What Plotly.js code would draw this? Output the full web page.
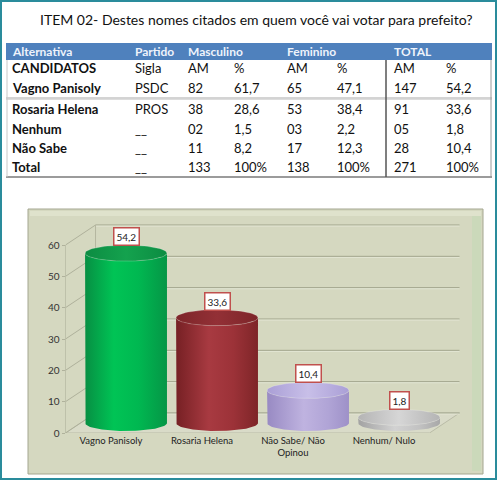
<!DOCTYPE html>
<html><head><meta charset="utf-8">
<script src="https://cdn.plot.ly/plotly-3.0.1.min.js"></script>
<style>html,body{margin:0;padding:0;background:#fff;}#c{width:497px;height:480px;}</style>
</head><body><div id="c"></div>
<script>
// ---- data ----
var titleText = 'ITEM 02- Destes nomes citados em quem você vai votar para prefeito?';
var headerLabels = ['Alternativa', 'Partido', 'Masculino', 'Feminino', 'TOTAL'];
var subHeader = ['CANDIDATOS', 'Sigla', 'AM', '%', 'AM', '%', 'AM', '%'];
var candidates = ['Vagno Panisoly', 'Rosaria Helena', 'Nenhum', 'Não Sabe', 'Total'];
var partido = ['PSDC', 'PROS', '__', '__', '__'];
var mascAM = ['82', '38', '02', '11', '133'];
var mascPct = ['61,7', '28,6', '1,5', '8,2', '100%'];
var femAM = ['65', '53', '03', '17', '138'];
var femPct = ['47,1', '38,4', '2,2', '12,3', '100%'];
var totAM = ['147', '91', '05', '28', '271'];
var totPct = ['54,2', '33,6', '1,8', '10,4', '100%'];

var chartCategories = ['Vagno Panisoly', 'Rosaria Helena', 'Não Sabe/ Não<br>Opinou', 'Nenhum/ Nulo'];
var chartValues = [54.2, 33.6, 10.4, 1.8];
var chartLabels = ['54,2', '33,6', '10,4', '1,8'];
var yTicks = [0, 10, 20, 30, 40, 50, 60];

// ---- styling ----
var W = 497, H = 480;
function X(px){ return px / W; }
function Y(py){ return 1 - py / H; }
var FONT = 'Lato, Calibri, "Open Sans", sans-serif';

var bodyColors = [
  [[0,'#078f43'],[0.35,'#00c455'],[0.65,'#00b851'],[1,'#059646']],
  [[0,'#762024'],[0.4,'#a83a41'],[0.7,'#9c3238'],[1,'#7e2528']],
  [[0,'#988ac3'],[0.45,'#bfb3e0'],[0.75,'#b0a4d6'],[1,'#9e91c8']],
  [[0,'#a2a2a2'],[0.45,'#d2d2d2'],[0.75,'#c2c2c2'],[1,'#a8a8a8']]
];
var topColors = [
  [[0,'#0c8c42'],[0.5,'#14a24e'],[1,'#0c8c42']],
  [[0,'#7d2529'],[0.5,'#933036'],[1,'#7d2529']],
  [[0,'#aa9fd6'],[0.5,'#c8bfe8'],[1,'#aa9fd6']],
  [[0,'#b4b4b4'],[0.5,'#d6d6d6'],[1,'#b4b4b4']]
];

// 3D depth offsets (in data units)
var dxMid = 0.165, dyMid = 3.19, dxBack = 0.33, dyBack = 6.38;
var bw = 0.45, eh = 2.55;

var traces = [];
chartValues.forEach(function(v, i){
  var c = i + dxMid, base = dyMid, top = v + dyMid;
  var bx = [], by = [], N = 40, k, t;
  bx.push(c - bw); by.push(top);
  bx.push(c - bw); by.push(base);
  for (k = 0; k <= N; k++){ t = Math.PI + Math.PI * k / N; bx.push(c + bw * Math.cos(t)); by.push(base + eh * Math.sin(t)); }
  bx.push(c + bw); by.push(top);
  for (k = 0; k <= N; k++){ t = 2 * Math.PI - Math.PI * k / N; bx.push(c + bw * Math.cos(t)); by.push(top + eh * Math.sin(t)); }
  traces.push({type:'scatter', mode:'lines', x:bx, y:by, fill:'toself',
    fillgradient:{type:'horizontal', colorscale: bodyColors[i]},
    line:{width:0, color:'rgba(0,0,0,0)'}, hoverinfo:'skip', showlegend:false});
  var tx = [], ty = [];
  for (k = 0; k <= 2 * N; k++){ t = 2 * Math.PI * k / (2 * N); tx.push(c + bw * Math.cos(t)); ty.push(top + eh * Math.sin(t)); }
  traces.push({type:'scatter', mode:'lines', x:tx, y:ty, fill:'toself',
    fillgradient:{type:'horizontal', colorscale: topColors[i]},
    line:{width:0.6, color:'rgba(255,255,255,0.35)'}, hoverinfo:'skip', showlegend:false});
});

var shapes = [];
var annotations = [];

// outer teal frame
shapes.push({type:'rect', xref:'paper', yref:'paper', x0:X(1), x1:X(496), y0:Y(1), y1:Y(479), line:{color:'#2a8c9c', width:2}, layer:'below'});

// ---- table ----
shapes.push({type:'rect', xref:'paper', yref:'paper', x0:X(6), x1:X(492), y0:Y(43), y1:Y(60), fillcolor:'#4f81bd', line:{width:0}, layer:'below'});
shapes.push({type:'line', xref:'paper', yref:'paper', x0:X(6), x1:X(492), y0:Y(98), y1:Y(98), line:{color:'#a8a8a8', width:1}});
shapes.push({type:'line', xref:'paper', yref:'paper', x0:X(6), x1:X(492), y0:Y(99.5), y1:Y(99.5), line:{color:'#dddddd', width:1}});
shapes.push({type:'line', xref:'paper', yref:'paper', x0:X(6), x1:X(492), y0:Y(177), y1:Y(177), line:{color:'#7a7a7a', width:1.5}});
shapes.push({type:'line', xref:'paper', yref:'paper', x0:X(386), x1:X(386), y0:Y(60), y1:Y(177), line:{color:'#555555', width:1.5}});
shapes.push({type:'line', xref:'paper', yref:'paper', x0:X(7), x1:X(7), y0:Y(60), y1:Y(177), line:{color:'#c8c8c8', width:1}});
shapes.push({type:'line', xref:'paper', yref:'paper', x0:X(491), x1:X(491), y0:Y(60), y1:Y(177), line:{color:'#9a9a9a', width:1}});

function txt(s, px, py, size, bold, color){
  annotations.push({xref:'paper', yref:'paper', x:X(px), y:Y(py), xanchor:'left', yanchor:'middle',
    text: bold ? '<b>' + s + '</b>' : s, showarrow:false,
    font:{family:FONT, size:size, color:color || '#111'}});
}
annotations.push({xref:'paper', yref:'paper', x:X(256), y:Y(20), xanchor:'center', yanchor:'middle',
  text:titleText, showarrow:false, font:{family:FONT, size:14, color:'#111'}});

var hdrX = [10, 133, 186, 285, 392];
headerLabels.forEach(function(s, j){ txt(s, hdrX[j], 51.5, 12, true, '#eef3fb'); });
var colX = [10, 133, 186, 232, 285, 335, 392, 444];
subHeader.forEach(function(s, j){ txt(s, colX[j], 68, 13, j === 0, '#111'); });
var rowY = [88, 109, 129, 148, 167];
candidates.forEach(function(name, r){
  var cells = [name, partido[r], mascAM[r], mascPct[r], femAM[r], femPct[r], totAM[r], totPct[r]];
  cells.forEach(function(s, j){ txt(s, colX[j], rowY[r], 13, j === 0, '#111'); });
});

// ---- chart frame ----
shapes.push({type:'rect', xref:'paper', yref:'paper', x0:X(28), x1:X(483), y0:Y(209), y1:Y(474), fillcolor:'#d5d8c0', line:{color:'#a4a690', width:1}, layer:'below'});
shapes.push({type:'rect', xref:'paper', yref:'paper', x0:X(472), x1:X(481), y0:Y(212), y1:Y(471), fillcolor:'#cbd9ba', line:{width:0}, layer:'below'});
shapes.push({type:'rect', xref:'paper', yref:'paper', x0:X(30), x1:X(481), y0:Y(211), y1:Y(216), fillcolor:'#dfe2cc', line:{width:0}, layer:'below'});

// floor
shapes.push({type:'path', xref:'x', yref:'y', layer:'below',
  path:'M -0.5 0 L 3.5 0 L ' + (3.5 + dxBack) + ' ' + dyBack + ' L ' + (-0.5 + dxBack) + ' ' + dyBack + ' Z',
  fillcolor:'#d9dbc8', line:{color:'#b9bba6', width:1}});
// back wall grid lines and side-wall connectors
yTicks.forEach(function(v){
  shapes.push({type:'line', xref:'x', yref:'y', layer:'below', x0:-0.5 + dxBack, x1:3.5 + dxBack, y0:v + dyBack, y1:v + dyBack, line:{color:'#9fa38a', width:1}});
  shapes.push({type:'line', xref:'x', yref:'y', layer:'below', x0:-0.5 + dxBack, x1:3.5 + dxBack, y0:v + dyBack - 0.35, y1:v + dyBack - 0.35, line:{color:'#e2e5d2', width:1}});
  shapes.push({type:'line', xref:'x', yref:'y', layer:'below', x0:-0.5, x1:-0.5 + dxBack, y0:v, y1:v + dyBack, line:{color:'#aeb09a', width:1}});
});
shapes.push({type:'line', xref:'x', yref:'y', layer:'below', x0:-0.5 + dxBack, x1:-0.5 + dxBack, y0:dyBack, y1:60 + dyBack, line:{color:'#b4b6a0', width:1}});
shapes.push({type:'line', xref:'x', yref:'y', layer:'below', x0:-0.5, x1:-0.5, y0:0, y1:60, line:{color:'#a8aa94', width:1}});

// value labels
chartValues.forEach(function(v, i){
  annotations.push({xref:'x', yref:'y', x:i + dxMid, y:v + dyMid + eh, xanchor:'center', yanchor:'bottom',
    text:chartLabels[i], showarrow:false, bgcolor:'#ffffff', bordercolor:'#c0504d', borderwidth:1.5, borderpad:2, yshift:-1,
    font:{family:FONT, size:10, color:'#222'}});
});

var layout = {
  width:W, height:H, margin:{l:0, r:0, t:0, b:0},
  paper_bgcolor:'#ffffff', plot_bgcolor:'rgba(0,0,0,0)', showlegend:false,
  xaxis:{domain:[X(65.5), X(475)], range:[-0.5, 4.0], tickvals:[0,1,2,3], ticktext:chartCategories,
    showgrid:false, zeroline:false, showline:false, ticks:'', fixedrange:true,
    tickfont:{family:FONT, size:9.5, color:'#222'}},
  yaxis:{domain:[Y(433), Y(433 - 68 * (188 / 60))], range:[0, 68], tickvals:yTicks, ticktext:yTicks.map(String),
    showgrid:false, zeroline:false, showline:false, ticks:'outside', ticklen:3, tickcolor:'#b0b29c', fixedrange:true,
    tickfont:{family:FONT, size:10, color:'#333'}},
  shapes:shapes, annotations:annotations
};
Plotly.newPlot('c', traces, layout, {displayModeBar:false, staticPlot:true});
</script></body></html>
